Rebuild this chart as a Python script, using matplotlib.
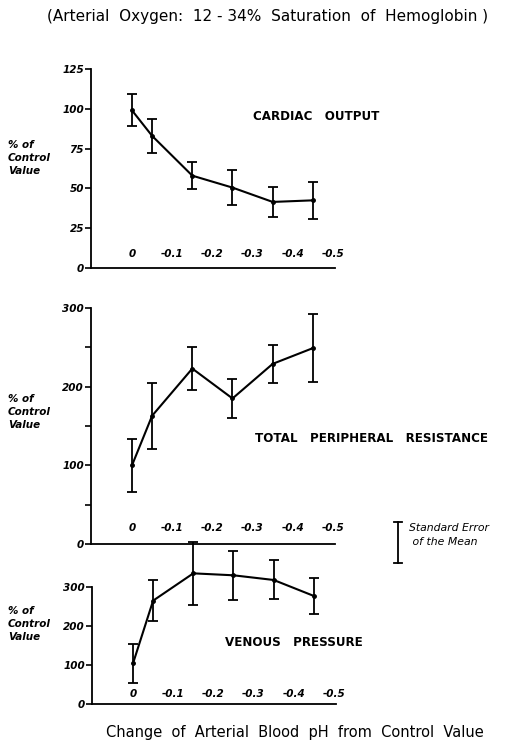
import matplotlib.pyplot as plt

# change of arterial blood pH (x positions of the points)
ph = [0, -0.05, -0.15, -0.25, -0.35, -0.45]
ph_ticks = [0, -0.1, -0.2, -0.3, -0.4, -0.5]
ph_labels = ['0', '-0.1', '-0.2', '-0.3', '-0.4', '-0.5']

# % of control value, mean and standard error
cardiac = [99, 83, 58, 50.5, 41.5, 42.5]
cardiac_se = [10, 10.5, 8.5, 11, 9.5, 11.5]

resistance = [100, 163, 223, 185, 229, 249]
resistance_se = [34, 42, 27, 25, 24, 43]

venous = [104, 265, 335, 330, 318, 277]
venous_se = [50, 52, 80, 63, 50, 45]

W, H = 518, 745
fig = plt.figure(figsize=(W / 100, H / 100), dpi=100)

def px_axes(left, right, top, bottom):
    return fig.add_axes([left / W, 1 - bottom / H, (right - left) / W, (bottom - top) / H])

def style(ax, ymax, yticks, ylabels, minor=None):
    ax.set_xlim(0.102, -0.505)
    ax.set_ylim(0, ymax)
    for s in ['top', 'right']:
        ax.spines[s].set_visible(False)
    for s in ['left', 'bottom']:
        ax.spines[s].set_linewidth(1.3)
    ax.set_yticks(yticks)
    ax.set_yticklabels(ylabels, fontsize=7.5, fontweight='bold', fontstyle='italic')
    if minor:
        ax.set_yticks(minor, minor=True)
        ax.tick_params(axis='y', which='minor', length=4, width=1.2)
    ax.tick_params(axis='y', length=4, width=1.2, pad=1)
    ax.set_xticks([])
    # x tick labels sit just above the axis line
    for t, lab in zip(ph_ticks, ph_labels):
        ax.text(t, ymax * 0.045, lab, ha='center', va='bottom', fontsize=7.5,
                fontweight='bold', fontstyle='italic')

def series(ax, y, se):
    ax.errorbar(ph, y, yerr=se, color='black', lw=1.5, elinewidth=1.3, capsize=3.5,
                capthick=1.3, marker='o', ms=2.5, clip_on=False)

def ylab(ypix):
    fig.text(8 / W, 1 - ypix / H, '% of\nControl\nValue', ha='left', va='center',
             fontsize=7.5, fontstyle='italic', fontweight='bold', linespacing=1.35)

# cardiac output
ax1 = px_axes(91, 335, 69, 268)
style(ax1, 125, [0, 25, 50, 75, 100, 125], ['0', '25', '50', '75', '100', '125'])
series(ax1, cardiac, cardiac_se)
fig.text(253 / W, 1 - 116 / H, 'CARDIAC   OUTPUT', fontsize=8.6, fontweight='bold', va='center')
ylab(158)

# total peripheral resistance
ax2 = px_axes(91, 335, 308, 544)
style(ax2, 300, [0, 100, 200, 300], ['0', '100', '200', '300'], minor=[50, 150, 250])
series(ax2, resistance, resistance_se)
fig.text(255 / W, 1 - 438 / H, 'TOTAL   PERIPHERAL   RESISTANCE', fontsize=8.6,
         fontweight='bold', va='center')
ylab(412)

# venous pressure
ax3 = px_axes(92, 336, 587, 704)
style(ax3, 300, [0, 100, 200, 300], ['0', '100', '200', '300'])
series(ax3, venous, venous_se)
fig.text(225 / W, 1 - 642 / H, 'VENOUS   PRESSURE', fontsize=8.6, fontweight='bold', va='center')
ylab(624)

# standard error legend
fig.lines.append(plt.Line2D([398 / W, 398 / W], [1 - 522 / H, 1 - 563 / H],
                            color='black', lw=1.3, transform=fig.transFigure))
for yy in [522, 563]:
    fig.lines.append(plt.Line2D([394 / W, 402 / W], [1 - yy / H, 1 - yy / H],
                                color='black', lw=1.3, transform=fig.transFigure))
fig.text(409 / W, 1 - 535 / H, 'Standard Error\n of the Mean', fontsize=7.8,
         fontstyle='italic', va='center', linespacing=1.5)

fig.text(47 / W, 1 - 16 / H, '(Arterial  Oxygen:  12 - 34%  Saturation  of  Hemoglobin )',
         ha='left', va='center', fontsize=11)
fig.text(106 / W, 1 - 733 / H, 'Change  of  Arterial  Blood  pH  from  Control  Value',
         ha='left', va='center', fontsize=10.5)

fig.savefig('out.png', dpi=100)
